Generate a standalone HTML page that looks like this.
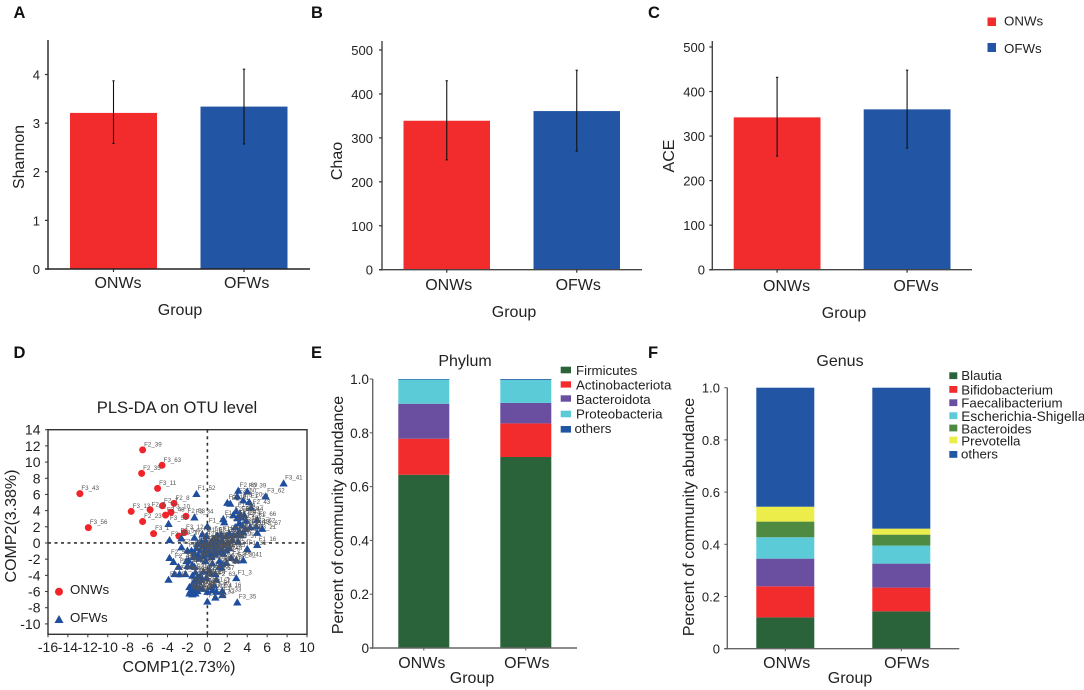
<!DOCTYPE html>
<html lang="en">
<head>
<meta charset="utf-8">
<title>Microbiome diversity and community composition</title>
<style>
html,body{margin:0;padding:0;background:#fff;width:1084px;height:690px;overflow:hidden}
svg{display:block;filter:blur(0.35px)}
text{font-family:"Liberation Sans",sans-serif;fill:#222}
.pl{font-size:16.5px;font-weight:bold;fill:#111}
.t16{font-size:16px}
.t13{font-size:13.3px}
.tick{font-size:13px}
.tick14{font-size:14px}
.tickE{font-size:13.6px}
.tickF{font-size:13px}
.pt{font-size:6.2px;fill:#555}
</style>
</head>
<body>
<svg id="root" width="1084" height="690" viewBox="0 0 1084 690" xmlns="http://www.w3.org/2000/svg">
  <text class="pl" x="13.5" y="18">A</text>
  <text class="pl" x="311" y="18">B</text>
  <text class="pl" x="648" y="18">C</text>
  <text class="pl" x="13.5" y="358">D</text>
  <text class="pl" x="311" y="358">E</text>
  <text class="pl" x="648" y="358">F</text>

  <g id="panelA"></g>
  <g id="panelB"></g>
  <g id="panelC"></g>
  <g id="panelD"></g>
  <g id="panelE"></g>
  <g id="panelF"></g>

  <text class="t16" transform="translate(24,157) rotate(-90)" text-anchor="middle">Shannon</text>
  <text class="t16" x="180" y="315" text-anchor="middle">Group</text>
  <text class="t16" transform="translate(342,161) rotate(-90)" text-anchor="middle">Chao</text>
  <text class="t16" x="514" y="317" text-anchor="middle">Group</text>
  <text class="t16" transform="translate(674,156) rotate(-90)" text-anchor="middle">ACE</text>
  <text class="t16" x="844" y="318" text-anchor="middle">Group</text>

  <g>
    <rect x="987.5" y="17.5" width="8.5" height="8.5" fill="#f22b2d"/>
    <text class="t13" x="1004" y="25.5">ONWs</text>
    <rect x="987.5" y="43" width="8.5" height="9" fill="#2355a5"/>
    <text class="t13" x="1004" y="53">OFWs</text>
  </g>

  <text x="177" y="413" text-anchor="middle" style="font-size:16.6px">PLS-DA on OTU level</text>
  <text class="t16" x="179" y="672" text-anchor="middle">COMP1(2.73%)</text>
  <text class="t16" transform="translate(16,526) rotate(-90)" text-anchor="middle">COMP2(3.38%)</text>
  <g>
    <circle cx="59" cy="591.7" r="4" fill="#f0242a"/>
    <text class="t13" x="70" y="594">ONWs</text>
    <polygon points="54.5,623 63.5,623 59,615" fill="#1f4e9f"/>
    <text class="t13" x="70" y="622">OFWs</text>
  </g>

  <text class="t16" x="465" y="366" text-anchor="middle">Phylum</text>
  <text class="t16" transform="translate(343,515) rotate(-90)" text-anchor="middle">Percent of community abundance</text>
  <text class="t16" x="472" y="683" text-anchor="middle">Group</text>
  <g>
    <rect x="560.7" y="366.7" width="10.3" height="6.6" fill="#2a6339"/>
    <text class="t13" x="576" y="375">Firmicutes</text>
    <rect x="560.7" y="381.3" width="10.3" height="6.3" fill="#f22b2d"/>
    <text class="t13" x="576" y="389.5">Actinobacteriota</text>
    <rect x="560.7" y="395.3" width="10.3" height="6.4" fill="#6a4e9f"/>
    <text class="t13" x="576" y="404">Bacteroidota</text>
    <rect x="560.7" y="410.7" width="10.3" height="6.6" fill="#5ccbd8"/>
    <text class="t13" x="576" y="418.5">Proteobacteria</text>
    <rect x="560.7" y="426" width="10.3" height="6.6" fill="#2355a5"/>
    <text class="t13" x="574.5" y="433">others</text>
  </g>

  <text class="t16" x="840" y="366" text-anchor="middle">Genus</text>
  <text class="t16" transform="translate(694,517) rotate(-90)" text-anchor="middle">Percent of community abundance</text>
  <text class="t16" x="850" y="683" text-anchor="middle">Group</text>
  <g>
    <rect x="949.3" y="372.3" width="8" height="6.8" fill="#2a6339"/>
    <text class="t13" x="961.3" y="380">Blautia</text>
    <rect x="949.3" y="386" width="8" height="6.8" fill="#f22b2d"/>
    <text class="t13" x="961.3" y="394.3">Bifidobacterium</text>
    <rect x="949.3" y="399.3" width="8" height="6.8" fill="#6a4e9f"/>
    <text class="t13" x="961.3" y="407.7">Faecalibacterium</text>
    <rect x="949.3" y="412.3" width="8" height="6.8" fill="#5ccbd8"/>
    <text class="t13" x="961.3" y="421" style="font-size:13.7px">Escherichia-Shigella</text>
    <rect x="949.3" y="424.6" width="8" height="6.8" fill="#4f8a43"/>
    <text class="t13" x="961.3" y="433.3">Bacteroides</text>
    <rect x="949.3" y="436.6" width="8" height="6.8" fill="#ecec4a"/>
    <text class="t13" x="961.3" y="445.7">Prevotella</text>
    <rect x="949.3" y="451" width="8" height="6.8" fill="#2355a5"/>
    <text class="t13" x="961" y="458.3">others</text>
  </g>
</svg>

<script>
// ---- Alpha diversity data ----
const groups = ['ONWs', 'OFWs'];
const shannonMeans = [3.21, 3.34];
const shannonLow = [2.58, 2.57];
const shannonHigh = [3.87, 4.11];
const shannonTicks = [0, 1, 2, 3, 4];
const chaoMeans = [339, 361];
const chaoLow = [250, 270];
const chaoHigh = [430, 454];
const chaoTicks = [0, 100, 200, 300, 400, 500];
const aceMeans = [342, 360];
const aceLow = [255, 273];
const aceHigh = [432, 448];
const aceTicks = [0, 100, 200, 300, 400, 500];

// ---- PLS-DA data ----
const compXTicks = [-16, -14, -12, -10, -8, -6, -4, -2, 0, 2, 4, 6, 8, 10];
const compYTicks = [14, 12, 10, 8, 6, 4, 2, 0, -2, -4, -6, -8, -10];
const onwX = [-12.8, -6.5, -4.55, -6.6, -5.0, -7.65, -5.75, -6.5, -11.95, -5.4, -4.5, -3.35, -3.65, -4.2, -2.15, -2.85, -2.3];
const onwY = [6.1, 11.5, 9.6, 8.6, 6.75, 3.9, 4.1, 2.65, 1.9, 1.15, 4.6, 4.9, 3.8, 3.45, 3.3, 0.85, 1.3];
const onwNames = ['F3_43', 'F2_39', 'F3_63', 'F2_35', 'F3_11', 'F3_13', 'F2_5', 'F2_23', 'F3_56', 'F3_1', 'F2_7', 'F2_8', 'F3_10', 'F3_48', 'F2_53', 'F3_5', 'F3_12'];
const ofwX = [
  7.65, 5.85, 3.1, 4.0, 3.0, -1.1, 2.0, 2.3, 4.2, 4.4,
  3.6, 2.9, 3.3, 5.0, 5.5, 5.0, -1.3, -3.9, 0, -3.8,
  -2.6, -2.6, 4.0, 5.0, -3.8, -3.4, -2.9, -3.3, -2.8, -2.2,
  -3.9, 3.6, 2.9, 2.9, 3.0, 1.5, 0.8, 0, -1.6, -1.2,
  1.6, 1.7, 2.6, 3.0, 3.4, 3.7, 3.9, 3.2, 3.5, 2.8,
  3.2, 3.6, 3.0, 2.6, 2.2, 4.9, 4.3, 3.8, 3.4, 1.9,
  2.5, 3.1, 2.0, 1.4, 1.0, 0.6, 1.5, -1.3, -0.5, -0.1,
  -1.6, -1.3, -1.1, -0.9, -0.7, -0.5, -0.3, -0.1, 0.1, 0.3,
  0.5, 0.7, 0.9, 1.1, 1.3, 1.5, 1.7, 1.9, -0.6, -0.2,
  0.2, 0.6, 1.0, -1.0, -1.4, -0.8, -0.4, 0, 0.4, 0.8,
  1.2, 1.6, 2.2, -2.0, -1.9, -0.2, 0.5, 1.2, 1.9, 2.4,
  -2.0, -1.5, -1.3, -2.1, 1.4, 1.2, 0.8, 1.5, -1.5, -1.2,
  -1.0, -0.7, -0.4, 0.2, 0.4, 0.9, -1.3, -0.9, -0.6, -0.1,
  -1.8, -1.5, -1.1, -0.8, 0.4, 0.7, -1.7, -1.4, -1.0, -0.5,
  0.0, 0.5, -1.2, -1.5, -1.8, 1.5, 0.9
];
const ofwY = [
  7.4, 5.8, 6.5, 6.4, 5.8, 6.1, 5.0, 4.9, 5.1, 4.4,
  5.3, 4.0, 3.6, 2.9, 1.8, 1.3, 3.2, 2.4, 2.1, 0.4,
  0.6, -0.5, -0.7, -0.2, -1.8, -2.3, -2.9, -3.8, -3.8, -3.8,
  -4.5, -2.1, -2.1, -4.3, -7.3, -6.4, -6.7, -7.2, -6.2, -6.2,
  3.0, 2.6, 3.5, 3.1, 3.2, 3.5, 2.8, 2.5, 2.2, 2.0,
  1.5, 1.4, 1.1, 1.0, 1.2, 2.1, 2.0, 1.8, 1.0, 0.9,
  0.4, 0.2, 0.1, 1.1, 1.0, 0.6, 0.3, 0.7, 1.1, 0.9,
  -0.9, -1.2, -0.6, -1.5, -0.9, -0.4, -1.0, -0.2, -0.8, 0.0,
  -0.5, -0.1, -0.9, -0.3, 0.2, -0.7, -0.2, -0.9, 0.2, 0.4,
  -1.2, -1.1, 0.3, -0.1, -1.7, -1.9, -1.6, -1.4, -1.7, -1.4,
  -1.1, -1.3, -0.6, -0.9, -2.1, -2.2, -2.5, -2.2, -2.4, -1.8,
  -2.8, -2.7, -2.9, -2.2, -3.0, -2.9, -3.8, -2.6, -4.0, -3.6,
  -4.2, -4.0, -3.5, -3.3, -3.7, -4.5, -4.6, -4.7, -4.4, -4.3,
  -5.4, -5.1, -5.3, -5.5, -5.4, -5.2, -5.9, -5.7, -5.9, -5.6,
  -6.0, -5.8, -5.6, -6.3, -6.2, -5.9, -6.0
];
const ofwNames = [
  'F3_41', 'F3_62', 'F2_69', 'F0_39', 'F2_60', 'F1_52', 'F2_16', 'F2_71', 'F1_20', 'F2_43',
  'F3_20', 'F1_44', 'F3_28', 'F2_66', 'F3_67', 'F3_21', 'F3_34', 'F3_55', 'F1_7', 'F3_9',
  'F3_17', 'F2_14', 'F1_31', 'F1_16', 'F2_51', 'F2_47', 'F3_24', 'F2_30', 'F1_22', 'F3_40',
  'F2_12', 'F2_41', 'F2_50', 'F1_3', 'F3_35', 'F1_33', 'F2_33', 'F3_33', 'F1_18', 'F3_52',
  'F1_11', 'F1_26', 'F2_28', 'F3_29', 'F1_42', 'F3_44', 'F2_61', 'F1_48', 'F3_60', 'F2_37',
  'F1_36', 'F3_58', 'F2_19', 'F1_40', 'F3_19', 'F2_62', 'F3_49', 'F1_51', 'F3_46', 'F2_24',
  'F1_29', 'F3_37', 'F2_34', 'F1_15', 'F3_13', 'F2_3', 'F1_47', 'F3_8', 'F2_6', 'F1_9',
  'F3_22', 'F2_10', 'F1_4', 'F3_25', 'F2_27', 'F1_13', 'F3_30', 'F2_31', 'F1_19', 'F3_32',
  'F2_36', 'F1_23', 'F3_36', 'F2_38', 'F1_24', 'F3_38', 'F2_40', 'F1_25', 'F3_42', 'F2_42',
  'F1_27', 'F3_45', 'F2_44', 'F1_28', 'F3_47', 'F2_45', 'F1_30', 'F3_50', 'F2_46', 'F1_32',
  'F3_51', 'F2_48', 'F1_34', 'F3_53', 'F2_49', 'F1_35', 'F3_54', 'F2_52', 'F1_37', 'F3_57',
  'F2_54', 'F1_38', 'F3_59', 'F2_56', 'F1_39', 'F3_61', 'F2_57', 'F1_41', 'F3_64', 'F2_58',
  'F1_43', 'F3_65', 'F2_59', 'F1_45', 'F3_66', 'F2_63', 'F1_46', 'F3_2', 'F2_64', 'F1_49',
  'F3_3', 'F2_65', 'F1_50', 'F3_4', 'F2_67', 'F1_1', 'F3_6', 'F2_68', 'F1_2', 'F3_7',
  'F2_1', 'F1_5', 'F3_15', 'F2_2', 'F1_6', 'F3_16', 'F2_4'
];

// ---- Community composition data ----
const stackTicks = [0, 0.2, 0.4, 0.6, 0.8, 1.0];
const phylumTaxa = ['Firmicutes', 'Actinobacteriota', 'Bacteroidota', 'Proteobacteria', 'others'];
const phylumOnw = [0.644, 0.134, 0.130, 0.090, 0.002];
const phylumOfw = [0.710, 0.125, 0.076, 0.086, 0.003];
const genusTaxa = ['Blautia', 'Bifidobacterium', 'Faecalibacterium', 'Escherichia-Shigella', 'Bacteroides', 'Prevotella', 'others'];
const genusOnw = [0.120, 0.119, 0.106, 0.082, 0.060, 0.057, 0.456];
const genusOfw = [0.143, 0.091, 0.092, 0.069, 0.042, 0.023, 0.540];

// ---- Helpers ----
const NS = 'http://www.w3.org/2000/svg';
function make(tag, attrs, parent) {
  const node = document.createElementNS(NS, tag);
  for (const k in attrs) node.setAttribute(k, attrs[k]);
  parent.appendChild(node);
  return node;
}
function linear(d0, d1, r0, r1) {
  return function (v) { return r0 + (v - d0) * (r1 - r0) / (d1 - d0); };
}
function fmtTick(v) { return v === 0 ? '0' : v.toFixed(1); }
const groupColors = ['#f22b2d', '#2355a5'];
const phylumColors = ['#2a6339', '#f22b2d', '#6a4e9f', '#5ccbd8', '#2355a5'];
const genusColors = ['#2a6339', '#f22b2d', '#6a4e9f', '#5ccbd8', '#4f8a43', '#ecec4a', '#2355a5'];

function drawAxes(g, g2) {
  const yAxis = make('line', {x1: g2.x, x2: g2.x, y1: g2.top, y2: g2.base + 0.7, stroke: g2.color, 'stroke-width': 1.4}, g);
  
  
  const xAxis = make('line', {x1: g2.x - 3, x2: g2.right, y1: g2.base, y2: g2.base, stroke: g2.color, 'stroke-width': 1.4}, g);
  
  
}

function drawBarPanel(id, means, low, high, ticks, geo) {
  const g = document.getElementById(id);
  const y = linear(ticks[0], ticks[ticks.length - 1], geo.base, geo.yTop);
  means.forEach(function (m, i) {
    const bar = make('rect', {x: geo.barX[i], y: y(m), width: geo.barW, height: y(0) - y(m), fill: groupColors[i]}, g);
    
    
  });
  drawAxes(g, geo);
  ticks.forEach(function (t) {
    const tick = make('line', {x1: geo.x - 3, x2: geo.x, y1: y(t), y2: y(t), stroke: '#333', 'stroke-width': 1.2}, g);
    
    
    const lab = make('text', {x: geo.labelRight, y: y(t) + 5, 'text-anchor': 'end', class: 'tick'}, g);
    lab.textContent = String(t);
    
    
  });
  means.forEach(function (m, i) {
    const cx = geo.barX[i] + geo.barW / 2;
    const err = make('line', {x1: cx, x2: cx, y1: y(high[i]), y2: y(low[i]), stroke: '#111', 'stroke-width': 1.1}, g);
    
    
    const capTop = make('line', {x1: cx - 1.2, x2: cx + 1.2, y1: y(high[i]), y2: y(high[i]), stroke: '#111', 'stroke-width': 1}, g);
    
    
    const capLow = make('line', {x1: cx - 1.2, x2: cx + 1.2, y1: y(low[i]), y2: y(low[i]), stroke: '#111', 'stroke-width': 1}, g);
    
    
    const xt = make('line', {x1: cx, x2: cx, y1: geo.base, y2: geo.base + 3, stroke: '#333', 'stroke-width': 1.2}, g);
    
    
    const xl = make('text', {x: cx + geo.labelDx[i], y: geo.xLabelY, 'text-anchor': 'middle', class: 't16'}, g);
    xl.textContent = groups[i];
    
    
  });
}

function drawStackPanel(id, onw, ofw, taxa, colors, geo) {
  const g = document.getElementById(id);
  const y = linear(0, 1, geo.base, geo.yTop);
  [onw, ofw].forEach(function (series, i) {
    let acc = 0;
    series.forEach(function (v, j) {
      const seg = make('rect', {x: geo.barX[i], y: y(acc + v), width: geo.barW, height: y(acc) - y(acc + v), fill: colors[j]}, g);
      
      
      acc += v;
    });
    const cx = geo.barX[i] + geo.barW / 2;
    const xt = make('line', {x1: cx, x2: cx, y1: geo.base, y2: geo.base + 2.5, stroke: '#555', 'stroke-width': 1}, g);
    
    
    const xl = make('text', {x: cx + geo.labelDx[i], y: 668, 'text-anchor': 'middle', class: 't16'}, g);
    xl.textContent = groups[i];
    
    
  });
  drawAxes(g, geo);
  stackTicks.forEach(function (t) {
    const tick = make('line', {x1: geo.x - 3, x2: geo.x, y1: y(t), y2: y(t), stroke: '#555', 'stroke-width': 1}, g);
    
    
    const lab = make('text', {x: geo.labelRight, y: y(t) + 5, 'text-anchor': 'end', class: geo.tickClass}, g);
    lab.textContent = fmtTick(t);
    
    
  });
}

function drawScatter() {
  const g = document.getElementById('panelD');
  const x = linear(-16, 10, 48, 307);
  const y = linear(14, -10, 429.7, 623.9);
  const L = 48, R = 307, T = 429.7, B = 634.3;
  const frame = make('rect', {x: L, y: T, width: R - L, height: B - T, fill: 'none', stroke: '#333', 'stroke-width': 1.4}, g);
  
  
  const vz = make('line', {x1: x(0), x2: x(0), y1: T, y2: B, stroke: '#333', 'stroke-width': 1.6, 'stroke-dasharray': '3 3.5'}, g);
  
  
  const hz = make('line', {x1: L, x2: R, y1: y(0), y2: y(0), stroke: '#333', 'stroke-width': 1.6, 'stroke-dasharray': '3 3.5'}, g);
  
  
  compXTicks.forEach(function (t) {
    const tick = make('line', {x1: x(t), x2: x(t), y1: B, y2: B + 3, stroke: '#333', 'stroke-width': 1}, g);
    
    
    const lab = make('text', {x: x(t), y: 652, 'text-anchor': 'middle', class: 'tick14'}, g);
    lab.textContent = String(t);
    
    
  });
  compYTicks.forEach(function (t) {
    const tick = make('line', {x1: L - 3, x2: L, y1: y(t), y2: y(t), stroke: '#333', 'stroke-width': 1}, g);
    
    
    const lab = make('text', {x: 40.5, y: y(t) + 5, 'text-anchor': 'end', class: 'tick14'}, g);
    lab.textContent = String(t);
    
    
  });
  onwX.forEach(function (v, i) {
    const c = make('circle', {cx: x(v), cy: y(onwY[i]), r: 3.5, fill: '#f0242a'}, g);
    
    
  });
  ofwX.forEach(function (v, i) {
    const px = x(v), py = y(ofwY[i]);
    const t = make('polygon', {points: (px - 4.2) + ',' + (py + 3.4) + ' ' + (px + 4.2) + ',' + (py + 3.4) + ' ' + px + ',' + (py - 3.8), fill: '#1f4e9f'}, g);
    
    
  });
  onwX.forEach(function (v, i) {
    const lab = make('text', {x: x(v) + 1.5, y: y(onwY[i]) - 3.5, class: 'pt'}, g);
    lab.textContent = onwNames[i];
    
    
  });
  ofwX.forEach(function (v, i) {
    const lab = make('text', {x: x(v) + 1.5, y: y(ofwY[i]) - 3.5, class: 'pt'}, g);
    lab.textContent = ofwNames[i];
    
    
  });
}

drawBarPanel('panelA', shannonMeans, shannonLow, shannonHigh, shannonTicks, {
  x: 48, top: 40, base: 269, right: 310, yTop: 74.5, color: '#222', barX: [70, 200.5], barW: 87,
  labelRight: 40, labelDx: [4.5, 2.7], xLabelY: 288
});
drawBarPanel('panelB', chaoMeans, chaoLow, chaoHigh, chaoTicks, {
  x: 382, top: 41, base: 269.7, right: 642, yTop: 50, color: '#444', barX: [403.5, 533.5], barW: 86.5,
  labelRight: 373, labelDx: [2, 1.5], xLabelY: 290
});
drawBarPanel('panelC', aceMeans, aceLow, aceHigh, aceTicks, {
  x: 712.3, top: 41, base: 269.7, right: 972, yTop: 47, color: '#444', barX: [733.7, 863.7], barW: 86.8,
  labelRight: 705, labelDx: [9.5, 9], xLabelY: 291
});
drawScatter();
drawStackPanel('panelE', phylumOnw, phylumOfw, phylumTaxa, phylumColors, {
  x: 372.7, top: 379, base: 648, right: 577, yTop: 379, color: '#666', barX: [398.3, 500.3], barW: 51,
  labelRight: 369, labelDx: [-2, 1], tickClass: 'tickE'
});
drawStackPanel('panelF', genusOnw, genusOfw, genusTaxa, genusColors, {
  x: 727.3, top: 387.7, base: 648.7, right: 959.3, yTop: 387.7, color: '#666', barX: [756.3, 872.3], barW: 58,
  labelRight: 720, labelDx: [1.4, 5.5], tickClass: 'tickF'
});
</script>
</body>
</html>
